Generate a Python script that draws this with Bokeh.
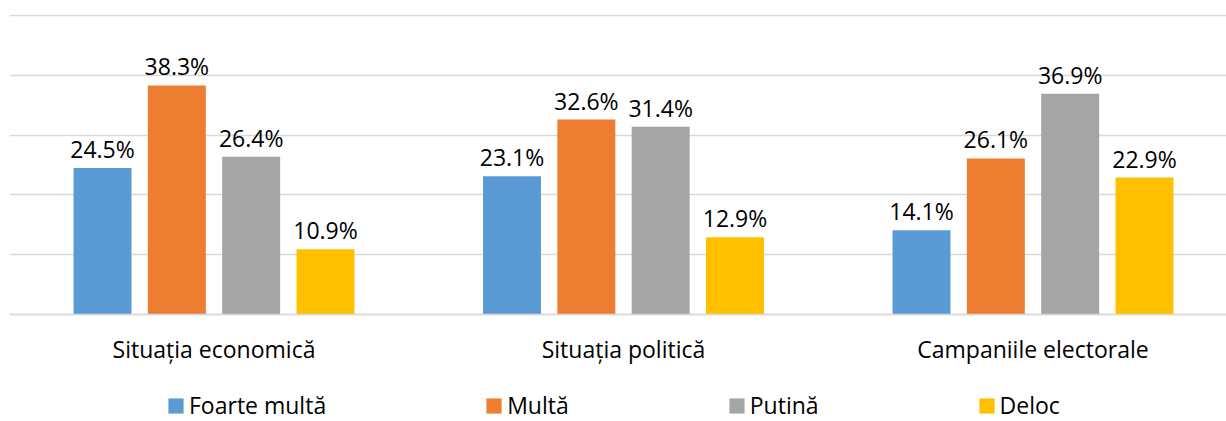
from bokeh.plotting import figure
from bokeh.models import ColumnDataSource, Range1d, FixedTicker, Legend, LegendItem
from bokeh.transform import dodge
from bokeh.core.properties import value
from bokeh.embed import file_html
from bokeh.resources import INLINE

# ---- data ----
categories = ["Situația economică", "Situația politică", "Campaniile electorale"]
series_names = ["Foarte multă", "Multă", "Putină", "Deloc"]
foarte_multa = [24.5, 23.1, 14.1]
multa = [38.3, 32.6, 26.1]
putina = [26.4, 31.4, 36.9]
deloc = [10.9, 12.9, 22.9]
y_ticks = [0, 10, 20, 30, 40, 50]

series_values = [foarte_multa, multa, putina, deloc]
colors = ["#5B9BD5", "#ED7D31", "#A5A5A5", "#FFC000"]

FONT = "Open Sans"
FS = "23px"

xs = [i + 0.5 for i in range(len(categories))]

# frame spans the whole canvas (except a 9px left strip); the value axis
# occupies page rows 15 (50 %) .. 314 (0 %)
px_per_unit_y = 299 / 50
y_top = 50 + 15 / px_per_unit_y
y_bot = -(421 - 314) / px_per_unit_y
px_per_group = 409.5
x_start = 0.5 - (213.5 - 9) / px_per_group
x_end = x_start + (1226 - 9) / px_per_group

p = figure(width=1226, height=421, output_backend="svg", toolbar_location=None,
           x_range=Range1d(x_start, x_end), y_range=Range1d(y_bot, y_top),
           y_axis_location=None, min_border_left=9, min_border_right=0,
           min_border_top=0, min_border_bottom=0)
p.outline_line_color = None
p.background_fill_color = "white"
p.border_fill_color = "white"

p.ygrid.ticker = FixedTicker(ticks=y_ticks)
p.ygrid.grid_line_color = "#D9D9D9"
p.ygrid.grid_line_width = 1.5
p.xgrid.grid_line_color = None

p.xaxis.fixed_location = 0
p.xaxis.ticker = FixedTicker(ticks=xs)
p.xaxis.major_label_overrides = {x: c for x, c in zip(xs, categories)}
p.xaxis.axis_line_color = "#D9D9D9"
p.xaxis.axis_line_width = 1.5
p.xaxis.major_tick_line_color = None
p.xaxis.minor_tick_line_color = None
p.xaxis.major_tick_out = 0
p.xaxis.major_label_standoff = 18
p.xaxis.major_label_text_font = FONT
p.xaxis.major_label_text_font_size = FS
p.xaxis.major_label_text_color = "#000000"

step = 0.1815
bar_w = 0.1416
offsets = [-1.5 * step, -0.5 * step, 0.5 * step, 1.5 * step]

items = []
for name, vals, col, off in zip(series_names, series_values, colors, offsets):
    src = ColumnDataSource(dict(x=xs, top=vals, label=[f"{v:.1f}%" for v in vals]))
    r = p.vbar(x=dodge("x", off, range=p.x_range), top="top", width=bar_w, bottom=0,
               source=src, fill_color=col, line_color=None)
    p.text(x=dodge("x", off, range=p.x_range), y="top", text="label", source=src,
           text_align="center", text_baseline="alphabetic", y_offset=-19,
           text_font=value(FONT), text_font_size=FS, text_color="#000000")
    items.append(LegendItem(label=name, renderers=[r]))

legend = Legend(items=items, orientation="horizontal", location=(157, 0),
                glyph_width=19, glyph_height=19, label_standoff=4, spacing=158,
                padding=0, margin=0, border_line_color=None, background_fill_alpha=0,
                label_text_font=FONT, label_text_font_size=FS, label_text_color="#000000")
p.add_layout(legend, "center")

open("out.html", "w").write(file_html(p, INLINE))
